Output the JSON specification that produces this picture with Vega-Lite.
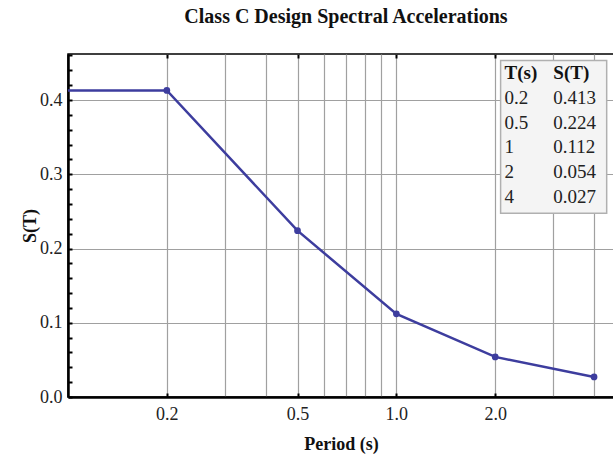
{
  "$schema": "https://vega.github.io/schema/vega-lite/v6.json",
  "width": 546,
  "height": 343,
  "autosize": {"type": "none"},
  "padding": {"left": 68, "top": 54, "right": 0, "bottom": 59},
  "background": "white",
  "config": {
    "font": "Liberation Serif",
    "view": {"stroke": "black", "strokeWidth": 1.5},
    "axis": {"labelFont": "Liberation Serif", "titleFont": "Liberation Serif", "labelColor": "#222", "titleColor": "#111"}
  },
  "title": {
    "text": "Class C Design Spectral Accelerations",
    "font": "Liberation Serif",
    "fontSize": 20,
    "fontWeight": "bold",
    "color": "#111",
    "anchor": "middle",
    "offset": 19,
    "dx": 5
  },
  "datasets": {
    "curve": [
      {"T": 0.1, "S": 0.413},
      {"T": 0.2, "S": 0.413},
      {"T": 0.5, "S": 0.224},
      {"T": 1, "S": 0.112},
      {"T": 2, "S": 0.054},
      {"T": 4, "S": 0.027}
    ],
    "table": [
      {"row": 0, "a": "T(s)", "b": "S(T)"},
      {"row": 1, "a": "0.2", "b": "0.413"},
      {"row": 2, "a": "0.5", "b": "0.224"},
      {"row": 3, "a": "1", "b": "0.112"},
      {"row": 4, "a": "2", "b": "0.054"},
      {"row": 5, "a": "4", "b": "0.027"}
    ]
  },
  "layer": [
    {
      "data": {"name": "curve"},
      "encoding": {
        "x": {
          "field": "T", "type": "quantitative",
          "scale": {"type": "log", "domain": [0.1, 4.6], "nice": false},
          "axis": {
            "orient": "bottom",
            "title": "Period (s)",
            "titleFontSize": 18,
            "titleFontWeight": "bold",
            "titlePadding": 12,
            "values": [0.2, 0.3, 0.4, 0.5, 0.6, 0.7, 0.8, 0.9, 1, 2, 3, 4],
            "labelExpr": "indexof([0.2,0.5,1,2], datum.value) >= 0 ? format(datum.value, '.1f') : ''",
            "labelFontSize": 18,
            "labelPadding": 12,
            "labelFlush": false,
            "labelOverlap": false,
            "grid": true,
            "gridColor": "#a0a0a0",
            "gridWidth": 1.2,
            "domainColor": "black",
            "domainWidth": 2.5,
            "tickColor": "black",
            "tickWidth": 2,
            "tickSize": -4,
            "tickOpacity": {"condition": {"test": "indexof([0.2,0.5,1,2], datum.value) >= 0", "value": 1}, "value": 0}
          }
        },
        "y": {
          "field": "S", "type": "quantitative",
          "scale": {"domain": [0, 0.462], "nice": false, "zero": false},
          "axis": {
            "title": "S(T)",
            "titleFontSize": 18,
            "titleFontWeight": "bold",
            "titlePadding": 0,
            "values": [0, 0.02, 0.04, 0.06, 0.08, 0.1, 0.12, 0.14, 0.16, 0.18, 0.2, 0.22, 0.24, 0.26, 0.28, 0.3, 0.32, 0.34, 0.36, 0.38, 0.4, 0.42, 0.44, 0.46],
            "labelExpr": "abs(datum.value*10 - round(datum.value*10)) < 1e-6 ? format(datum.value, '.1f') : ''",
            "labelFontSize": 18,
            "labelPadding": 10,
            "labelFlush": false,
            "labelOverlap": false,
            "grid": true,
            "gridColor": "#a0a0a0",
            "gridWidth": 1.2,
            "gridOpacity": {"condition": {"test": "abs(datum.value*10 - round(datum.value*10)) < 1e-6", "value": 1}, "value": 0},
            "domainColor": "black",
            "domainWidth": 2.5,
            "tickColor": "black",
            "tickWidth": 2,
            "tickSize": -4
          }
        }
      },
      "layer": [
        {
          "mark": {"type": "line", "color": "#3d3d9e", "strokeWidth": 2.5, "clip": true}
        },
        {
          "transform": [{"filter": "datum.T >= 0.2"}],
          "mark": {"type": "point", "filled": true, "color": "#3d3d9e", "size": 45, "opacity": 1},
          "encoding": {
            "x": {
              "field": "T", "type": "quantitative",
              "axis": {
                "orient": "top",
                "title": null,
                "labels": false,
                "grid": false,
                "domain": false,
                "values": [0.2, 0.5, 1, 2],
                "tickColor": "black",
                "tickWidth": 2,
                "tickSize": -4
              }
            }
          }
        }
      ]
    },
    {
      "data": {"name": "table"},
      "layer": [
        {
          "data": {"values": [{"box": 1}]},
          "mark": {"type": "rect", "fill": "#f4f4f4", "stroke": "#b0b0b0", "strokeWidth": 1.5},
          "encoding": {
            "x": {"datum": 2.077, "type": "quantitative", "axis": null},
            "x2": {"datum": 4.37},
            "y": {"datum": -0.5, "type": "quantitative", "scale": {"domain": [-0.766, 13.06], "reverse": true, "nice": false, "zero": false}, "axis": null},
            "y2": {"datum": 5.65}
          }
        },
        {
          "transform": [{"filter": "datum.row == 0"}],
          "layer": [
            {
              "mark": {"type": "text", "align": "left", "baseline": "middle", "font": "Liberation Serif", "fontSize": 19, "fontWeight": "bold", "color": "#111"},
              "encoding": {
                "x": {"datum": 2.136, "type": "quantitative", "axis": null},
                "y": {"field": "row", "type": "quantitative", "axis": null},
                "text": {"field": "a"}
              }
            },
            {
              "mark": {"type": "text", "align": "left", "baseline": "middle", "font": "Liberation Serif", "fontSize": 19, "fontWeight": "bold", "color": "#111"},
              "encoding": {
                "x": {"datum": 3.006, "type": "quantitative", "axis": null},
                "y": {"field": "row", "type": "quantitative", "axis": null},
                "text": {"field": "b"}
              }
            }
          ]
        },
        {
          "transform": [{"filter": "datum.row > 0"}],
          "layer": [
            {
              "mark": {"type": "text", "align": "left", "baseline": "middle", "font": "Liberation Serif", "fontSize": 19, "color": "#222"},
              "encoding": {
                "x": {"datum": 2.136, "type": "quantitative", "axis": null},
                "y": {"field": "row", "type": "quantitative", "axis": null},
                "text": {"field": "a"}
              }
            },
            {
              "mark": {"type": "text", "align": "left", "baseline": "middle", "font": "Liberation Serif", "fontSize": 19, "color": "#222"},
              "encoding": {
                "x": {"datum": 3.006, "type": "quantitative", "axis": null},
                "y": {"field": "row", "type": "quantitative", "axis": null},
                "text": {"field": "b"}
              }
            }
          ]
        }
      ]
    }
  ],
  "resolve": {"scale": {"y": "independent"}}
}
